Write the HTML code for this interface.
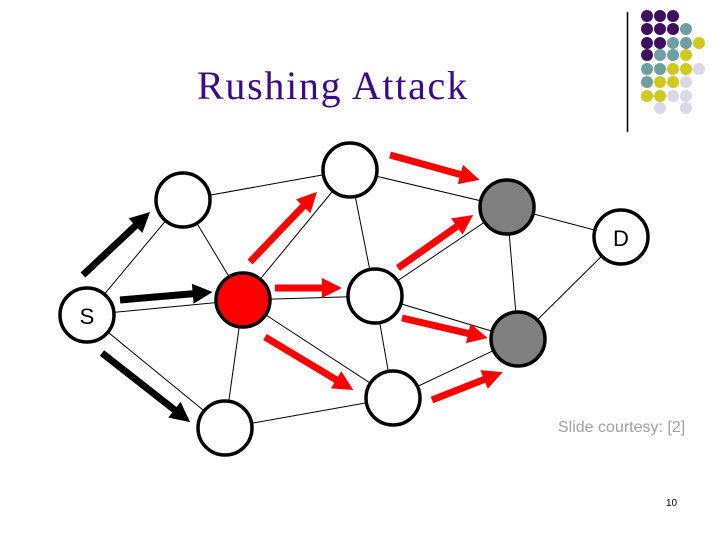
<!DOCTYPE html>
<html><head><meta charset="utf-8"><style>
html,body{margin:0;padding:0;background:#fff;}
svg{display:block}
</style></head><body>
<svg width="720" height="540" xmlns="http://www.w3.org/2000/svg">
<rect width="720" height="540" fill="#fff"/>
<text x="197" y="99" font-family="Liberation Serif, serif" font-size="40" fill="#3a0a8a" textLength="270">Rushing Attack</text>
<line x1="627.5" y1="12" x2="627.5" y2="132" stroke="#000" stroke-width="1.5"/>
<g>
<circle cx="647" cy="16" r="6" fill="#3d0f5e"/><circle cx="660" cy="16" r="6" fill="#3d0f5e"/><circle cx="673" cy="16" r="6" fill="#3d0f5e"/>
<circle cx="647" cy="29" r="6" fill="#3d0f5e"/><circle cx="660" cy="29" r="6" fill="#3d0f5e"/><circle cx="673" cy="29" r="6" fill="#3d0f5e"/><circle cx="686" cy="29" r="6" fill="#6e9fa0"/>
<circle cx="647" cy="43" r="6" fill="#3d0f5e"/><circle cx="660" cy="43" r="6" fill="#3d0f5e"/><circle cx="673" cy="43" r="6" fill="#6e9fa0"/><circle cx="686" cy="43" r="6" fill="#6e9fa0"/><circle cx="699" cy="43" r="6" fill="#cfc91e"/>
<circle cx="647" cy="55" r="6" fill="#3d0f5e"/><circle cx="660" cy="55" r="6" fill="#6e9fa0"/><circle cx="673" cy="55" r="6" fill="#6e9fa0"/><circle cx="686" cy="55" r="6" fill="#cfc91e"/>
<circle cx="647" cy="69" r="6" fill="#6e9fa0"/><circle cx="660" cy="69" r="6" fill="#6e9fa0"/><circle cx="673" cy="69" r="6" fill="#cfc91e"/><circle cx="686" cy="69" r="6" fill="#cfc91e"/><circle cx="699" cy="69" r="6" fill="#d8d8e8"/>
<circle cx="647" cy="82" r="6" fill="#6e9fa0"/><circle cx="660" cy="82" r="6" fill="#cfc91e"/><circle cx="673" cy="82" r="6" fill="#cfc91e"/><circle cx="686" cy="82" r="6" fill="#d8d8e8"/>
<circle cx="647" cy="96" r="6" fill="#cfc91e"/><circle cx="660" cy="96" r="6" fill="#cfc91e"/><circle cx="673" cy="96" r="6" fill="#d8d8e8"/><circle cx="686" cy="96" r="6" fill="#d8d8e8"/>
<circle cx="660" cy="108" r="6" fill="#d8d8e8"/><circle cx="686" cy="108" r="6" fill="#d8d8e8"/>
</g>
<g stroke="#000" stroke-width="1">
<line x1="87" y1="315" x2="183" y2="200"/>
<line x1="87" y1="315" x2="243" y2="300"/>
<line x1="87" y1="315" x2="225" y2="428"/>
<line x1="183" y1="200" x2="350" y2="170"/>
<line x1="183" y1="200" x2="243" y2="300"/>
<line x1="350" y1="170" x2="243" y2="300"/>
<line x1="350" y1="170" x2="375" y2="296"/>
<line x1="350" y1="170" x2="507" y2="207"/>
<line x1="243" y1="300" x2="375" y2="296"/>
<line x1="243" y1="300" x2="225" y2="428"/>
<line x1="243" y1="300" x2="393" y2="398"/>
<line x1="375" y1="296" x2="393" y2="398"/>
<line x1="375" y1="296" x2="507" y2="207"/>
<line x1="375" y1="296" x2="518" y2="339"/>
<line x1="225" y1="428" x2="393" y2="398"/>
<line x1="393" y1="398" x2="518" y2="339"/>
<line x1="507" y1="207" x2="518" y2="339"/>
<line x1="507" y1="207" x2="621" y2="237"/>
<line x1="518" y1="339" x2="621" y2="237"/>
</g>
<g stroke="#000" stroke-width="3.5">
<circle cx="87" cy="315" r="27" fill="#fff"/>
<circle cx="183" cy="200" r="27" fill="#fff"/>
<circle cx="350" cy="170" r="27" fill="#fff"/>
<circle cx="243" cy="300" r="27" fill="#f00"/>
<circle cx="375" cy="296" r="27" fill="#fff"/>
<circle cx="225" cy="428" r="27" fill="#fff"/>
<circle cx="393" cy="398" r="27" fill="#fff"/>
<circle cx="507" cy="207" r="27" fill="#808080"/>
<circle cx="518" cy="339" r="27" fill="#808080"/>
<circle cx="621" cy="237" r="27" fill="#fff"/>
</g>
<text x="87" y="324" font-family="Liberation Sans, sans-serif" font-size="22" text-anchor="middle">S</text>
<text x="621" y="246" font-family="Liberation Sans, sans-serif" font-size="22" text-anchor="middle">D</text>
<g fill="#000">
<polygon transform="translate(83,275) rotate(-43.2)" points="0,-3.5 72,-3.5 72,-10 92,0 72,10 72,3.5 0,3.5"/>
<polygon transform="translate(120,300) rotate(-4.9)" points="0,-3.5 73,-3.5 73,-10 93,0 73,10 73,3.5 0,3.5"/>
<polygon transform="translate(102,353) rotate(38.1)" points="0,-3.5 92,-3.5 92,-10 112,0 92,10 92,3.5 0,3.5"/>
</g>
<g fill="#f00">
<polygon transform="translate(250,262) rotate(-46.3)" points="0,-3.5 77,-3.5 77,-10 97,0 77,10 77,3.5 0,3.5"/>
<polygon transform="translate(275,288) rotate(0)" points="0,-3.5 47,-3.5 47,-10 67,0 47,10 47,3.5 0,3.5"/>
<polygon transform="translate(265,337) rotate(31)" points="0,-3.5 83,-3.5 83,-10 103,0 83,10 83,3.5 0,3.5"/>
<polygon transform="translate(390,155) rotate(15.5)" points="0,-3.5 73,-3.5 73,-10 93,0 73,10 73,3.5 0,3.5"/>
<polygon transform="translate(398,268) rotate(-35.2)" points="0,-3.5 72,-3.5 72,-10 92,0 72,10 72,3.5 0,3.5"/>
<polygon transform="translate(402,318) rotate(13.1)" points="0,-3.5 68,-3.5 68,-10 88,0 68,10 68,3.5 0,3.5"/>
<polygon transform="translate(432,400) rotate(-21.5)" points="0,-3.5 56,-3.5 56,-10 76,0 56,10 56,3.5 0,3.5"/>
</g>
<text x="558" y="432" font-family="Liberation Sans, sans-serif" font-size="16" fill="#a0a0a0">Slide courtesy: [2]</text>
<text x="666" y="506" font-family="Liberation Sans, sans-serif" font-size="10" fill="#000">10</text>
</svg>
</body></html>
